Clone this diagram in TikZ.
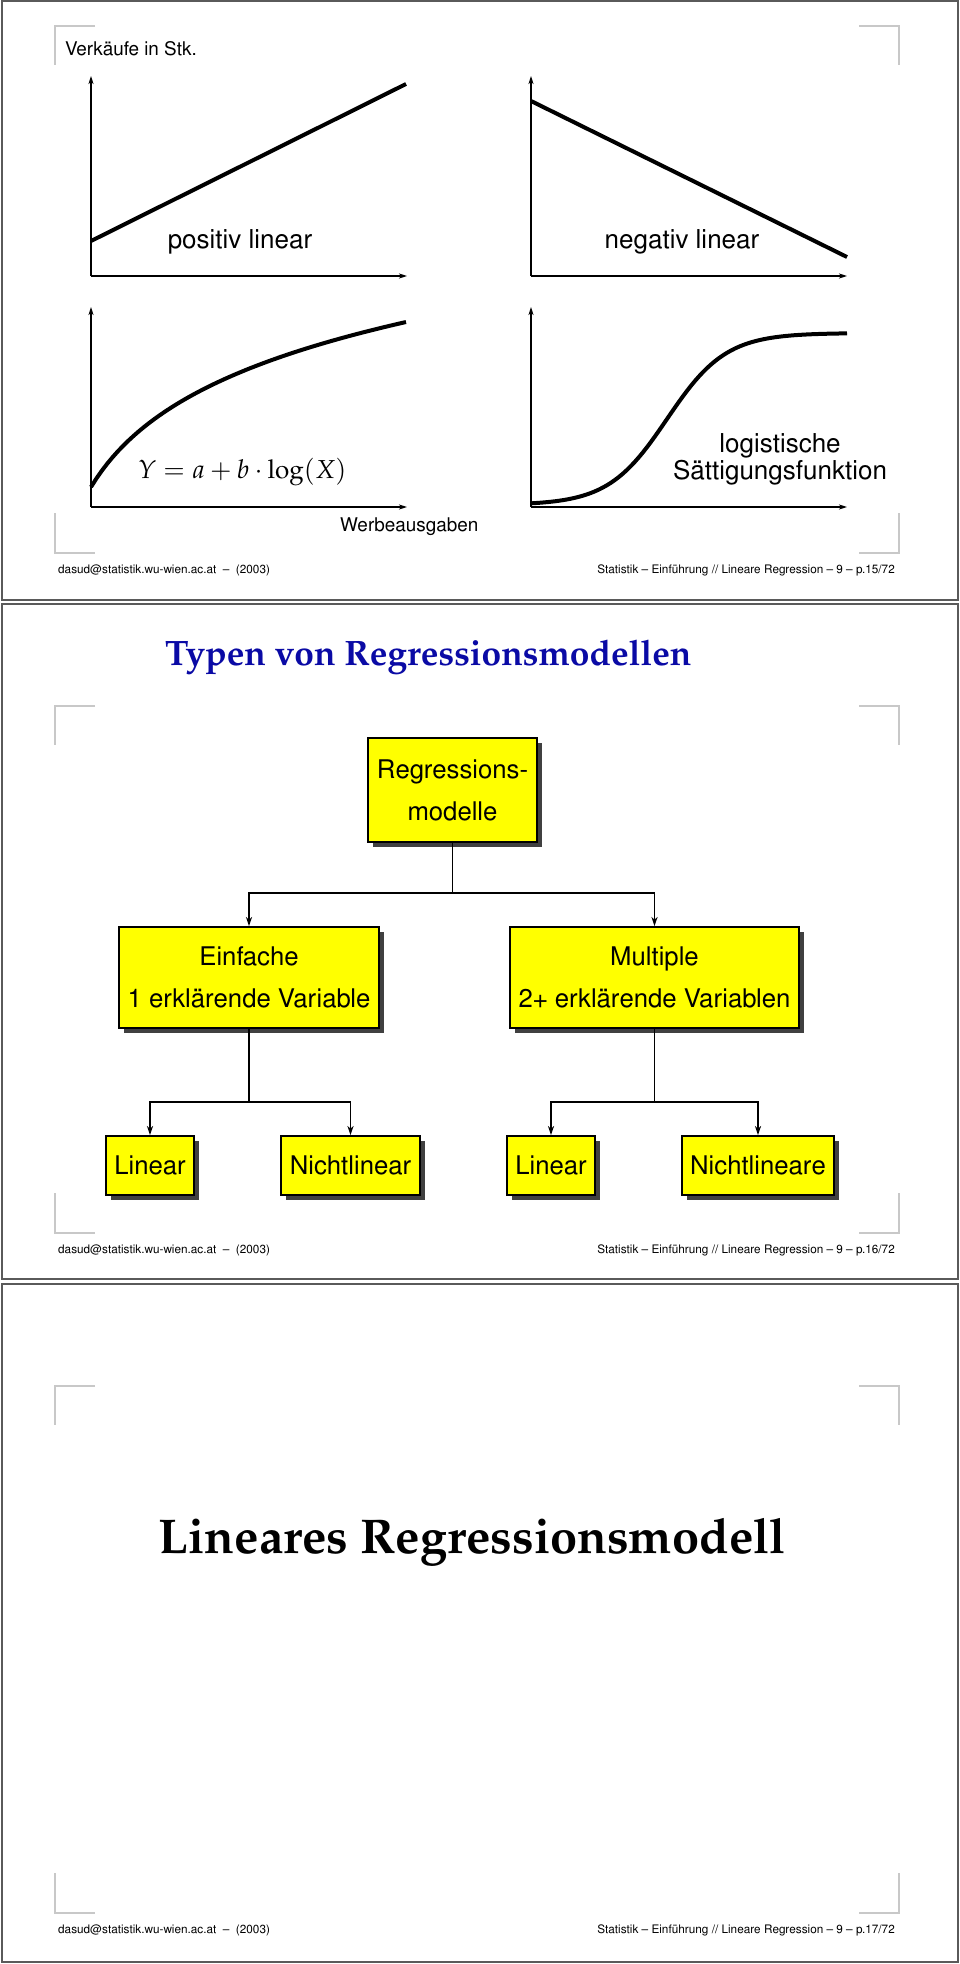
\documentclass[tikz,border=0pt]{standalone}
\usepackage[T1]{fontenc}
\usepackage{mathpazo}
\usepackage{helvet}
\usepackage{tikz}
\usetikzlibrary{arrows.meta,shadows,calc}

\definecolor{titleblue}{RGB}{10,10,165}
\definecolor{boxyellow}{RGB}{255,255,0}
\definecolor{shadowgray}{RGB}{64,64,64}
\definecolor{framegray}{RGB}{90,90,90}
\definecolor{cornergray}{RGB}{200,200,200}

\newcommand{\plotfont}{\sffamily\fontsize{26}{27}\selectfont}
\newcommand{\smallplotfont}{\sffamily\fontsize{18.9}{21}\selectfont}
\newcommand{\footfont}{\sffamily\fontsize{11.75}{14}\selectfont}
\newcommand{\boxfont}{\sffamily\fontsize{25.7}{42}\selectfont}
\newcommand{\slidetitle}{\rmfamily\bfseries\fontsize{35.3}{40}\selectfont}
\newcommand{\bigslidetitle}{\rmfamily\bfseries\fontsize{48.8}{55}\selectfont}

\tikzset{
  axis/.style={line width=1.1pt, -{Stealth[length=8pt,width=5pt,inset=2pt]}},
  curve/.style={line width=4pt},
  frame/.style={draw=framegray, line width=1.5pt},
  cornermark/.style={draw=cornergray, line width=1.5pt},
  treebox/.style={draw, line width=1.8pt, fill=boxyellow, align=center, inner sep=0pt,
    font=\boxfont,
    general shadow={fill=shadowgray, shadow xshift=5pt, shadow yshift=-5pt}},
  conn/.style={line width=1.8pt},
  arr/.style={conn, -{Stealth[length=9pt,width=6pt,inset=2.5pt]}}
}

\begin{document}
\begin{tikzpicture}[x=1pt,y=-1pt]
\useasboundingbox (0,0) rectangle (960,1964);
\fill[white] (0,0) rectangle (960,1964);

% slide frames
\draw[frame] (2,1) rectangle (958,600);
\draw[frame] (2,604) rectangle (958,1279);
\draw[frame] (2,1284) rectangle (958,1962);

% corner marks and footer lines
\foreach \off/\pg in {0/15,680/16,1360/17} {
  \draw[cornermark] (95,{26+\off}) -- (55,{26+\off}) -- (55,{65+\off});
  \draw[cornermark] (859,{26+\off}) -- (899,{26+\off}) -- (899,{65+\off});
  \draw[cornermark] (55,{513+\off}) -- (55,{553+\off}) -- (95,{553+\off});
  \draw[cornermark] (899,{513+\off}) -- (899,{553+\off}) -- (859,{553+\off});
  \node[anchor=base west, inner sep=0pt, font=\footfont] (footl\pg) at (58,{573+\off})
    {dasud@statistik.wu-wien.ac.at\ \ --\ \ (2003)};
  \node[anchor=base east, inner sep=0pt, font=\footfont] (footr\pg) at (895,{573+\off})
    {Statistik -- Einf\"uhrung // Lineare Regression -- 9 -- p.\pg/72};
}

% slide 15: four curve types
\node[anchor=base west, inner sep=0pt, font=\smallplotfont] (ylab) at (65,56) {Verk\"aufe in Stk.};

\coordinate (oa) at (91,276);
\draw[axis] (oa) -- (407,276);
\draw[axis] (oa) -- (91,76);
\draw[curve] (91,241) -- (406,84);
\node[anchor=base, inner sep=0pt, font=\plotfont] (poslin) at (240,248) {positiv linear};

\coordinate (ob) at (531,276);
\draw[axis] (ob) -- (847,276);
\draw[axis] (ob) -- (531,76);
\draw[curve] (531,101) -- (847,257);
\node[anchor=base, inner sep=0pt, font=\plotfont] (neglin) at (682,248) {negativ linear};

\coordinate (oc) at (91,507);
\draw[axis] (oc) -- (407,507);
\draw[axis] (oc) -- (91,307);
\draw[curve] plot[domain=91:406, samples=60] (\x,{487-83*ln(1+(\x-91)/50)});
\node[anchor=base west, inner sep=0pt, font=\fontsize{26}{30}\selectfont] (logform) at (138,478) {$Y=a+b\cdot\log(X)$};
\node[anchor=base west, inner sep=0pt, font=\smallplotfont] (xlab) at (340,531) {Werbeausgaben};

\coordinate (od) at (531,507);
\draw[axis] (od) -- (847,507);
\draw[axis] (od) -- (531,307);
\draw[curve] plot[domain=531:847, samples=80] (\x,{505-172/(1+exp(-0.034*(\x-667)))});
\node[anchor=base, inner sep=0pt, font=\plotfont] (logi) at (780,452) {logistische};
\node[anchor=base, inner sep=0pt, font=\plotfont] (saett) at (780,479) {S\"attigungsfunktion};

% slide 16: tree of model types
\node[anchor=base west, inner sep=0pt, font=\slidetitle, text=titleblue] (title16) at (165,665)
  {Typen von Regressionsmodellen};

\node[treebox, minimum width=169pt, minimum height=104pt] (root) at (452.5,790) {Regressions-\\modelle};
\node[treebox, minimum width=260pt, minimum height=101pt] (einf) at (249,977.5) {Einfache\\1 erkl\"arende Variable};
\node[treebox, minimum width=289pt, minimum height=101pt] (mult) at (654.5,977.5) {Multiple\\2+ erkl\"arende Variablen};
\node[treebox, minimum width=88pt, minimum height=59pt] (lina) at (150,1165.5) {Linear};
\node[treebox, minimum width=139pt, minimum height=59pt] (nlina) at (350.5,1165.5) {Nichtlinear};
\node[treebox, minimum width=88pt, minimum height=59pt] (linb) at (551,1165.5) {Linear};
\node[treebox, minimum width=152pt, minimum height=59pt] (nlinb) at (758,1165.5) {Nichtlineare};

\coordinate (j0) at ($(root.south)+(0,50)$);
\draw[conn] (root.south) -- (j0);
\draw[arr] (j0) -| (einf.north);
\draw[arr] (j0) -| (mult.north);

\coordinate (j1) at ($(einf.south)+(0,73)$);
\draw[conn] (einf.south) -- (j1);
\draw[arr] (j1) -| (lina.north);
\draw[arr] (j1) -| (nlina.north);

\coordinate (j2) at ($(mult.south)+(0,73)$);
\draw[conn] (mult.south) -- (j2);
\draw[arr] (j2) -| (linb.north);
\draw[arr] (j2) -| (nlinb.north);

% slide 17: section title
\node[anchor=base, inner sep=0pt, font=\bigslidetitle] (title17) at (472.5,1553) {Lineares Regressionsmodell};
\end{tikzpicture}
\end{document}
